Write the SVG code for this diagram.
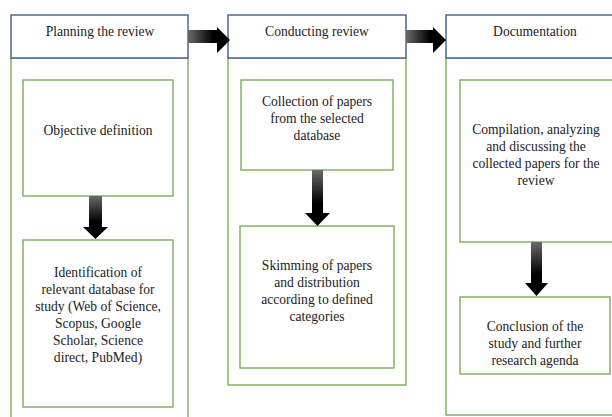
<svg xmlns="http://www.w3.org/2000/svg" width="612" height="417" viewBox="0 0 612 417">
<style>
  .hdr { fill: #ffffff; stroke: #3f5f8f; stroke-width: 1.4; }
  .outer { fill: none; stroke: #79ad5a; stroke-width: 1.4; }
  .inner { fill: #ffffff; stroke: #79ad5a; stroke-width: 1.4; }
  text { font-family: "Liberation Serif", "Times New Roman", serif; font-size: 13.6px; fill: #222222; text-anchor: middle; }
</style>
<defs>
  <linearGradient id="gh" x1="0" y1="0" x2="1" y2="0">
    <stop offset="0" stop-color="#6a6a6a"/>
    <stop offset="0.6" stop-color="#000000"/>
  </linearGradient>
  <linearGradient id="gv" x1="0" y1="0" x2="0" y2="1">
    <stop offset="0" stop-color="#6a6a6a"/>
    <stop offset="0.6" stop-color="#000000"/>
  </linearGradient>
</defs>
<rect x="0" y="0" width="612" height="417" fill="#ffffff"/>

<g id="col-planning">
  <rect class="outer" x="11" y="58" width="177" height="370"/>
  <rect class="hdr" x="11" y="15" width="177" height="43"/>
  <text x="100" y="36">Planning the review</text>
</g>
<g id="objective">
  <rect class="inner" x="23" y="80" width="150" height="116"/>
  <text x="98" y="135">Objective definition</text>
</g>
<g id="identification">
  <rect class="inner" x="23" y="240" width="150" height="167"/>
  <text x="98" y="277">Identification of</text>
  <text x="98" y="294">relevant database for</text>
  <text x="98" y="311">study (Web of Science,</text>
  <text x="98" y="328">Scopus, Google</text>
  <text x="98" y="345">Scholar, Science</text>
  <text x="98" y="362">direct, PubMed)</text>
</g>

<g id="col-conducting">
  <rect class="outer" x="228" y="58" width="178" height="327"/>
  <rect class="hdr" x="228" y="15" width="178" height="43"/>
  <text x="317" y="36">Conducting review</text>
</g>
<g id="collection">
  <rect class="inner" x="241" y="80" width="152" height="90"/>
  <text x="317" y="106">Collection of papers</text>
  <text x="317" y="123">from the selected</text>
  <text x="317" y="140">database</text>
</g>
<g id="skimming">
  <rect class="inner" x="240" y="226" width="154" height="142"/>
  <text x="317" y="270">Skimming of papers</text>
  <text x="317" y="287">and distribution</text>
  <text x="317" y="304">according to defined</text>
  <text x="317" y="321">categories</text>
</g>

<g id="col-documentation">
  <rect class="outer" x="446" y="58" width="180" height="357"/>
  <rect class="hdr" x="446" y="15" width="180" height="43"/>
  <text x="535" y="36">Documentation</text>
</g>
<g id="compilation">
  <rect class="inner" x="460" y="80" width="160" height="162"/>
  <text x="536" y="134">Compilation, analyzing</text>
  <text x="536" y="151">and discussing the</text>
  <text x="536" y="168">collected papers for the</text>
  <text x="536" y="185">review</text>
</g>
<g id="conclusion">
  <rect class="inner" x="460" y="297" width="150" height="77"/>
  <text x="535" y="331">Conclusion of the</text>
  <text x="535" y="348">study and further</text>
  <text x="535" y="365">research agenda</text>
</g>

<g id="connectors">
  <polygon fill="url(#gh)" points="188,30 217,30 217,27 230,40 217,53 217,43 188,43"/>
  <polygon fill="url(#gh)" points="406,30 433,30 433,27 446,40 433,53 433,43 406,43"/>
  <polygon fill="url(#gv)" points="89,196 102,196 102,227 108,227 95.5,239 83,227 89,227"/>
  <polygon fill="url(#gv)" points="312,170 323,170 323,213 330,213 317.5,226 305,213 312,213"/>
  <polygon fill="url(#gv)" points="531,242 542,242 542,283 548,283 536.5,296 525,283 531,283"/>
</g>
</svg>
